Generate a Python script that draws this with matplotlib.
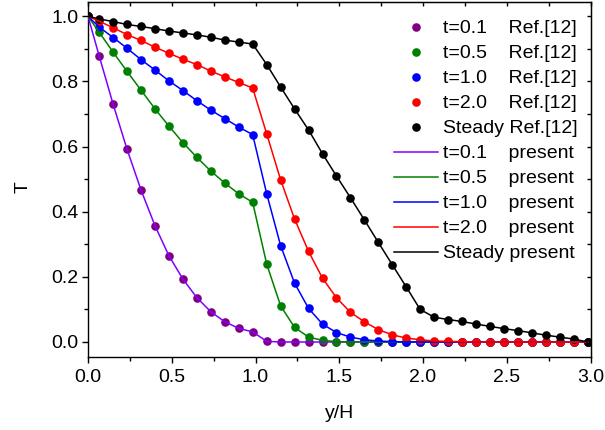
import matplotlib
matplotlib.use("Agg")
import matplotlib.pyplot as plt
from matplotlib.ticker import MultipleLocator, FormatStrFormatter
from matplotlib.lines import Line2D

plt.rcParams['font.family'] = ['Liberation Sans', 'DejaVu Sans']

# y/H positions of the sampled points
y_h = [0.0, 0.067, 0.15, 0.233, 0.317, 0.4, 0.483, 0.567, 0.65, 0.733, 0.817,
       0.9, 0.983, 1.067, 1.15, 1.233, 1.317, 1.4, 1.483, 1.567, 1.65, 1.733,
       1.817, 1.9, 1.983, 2.067, 2.15, 2.233, 2.317, 2.4, 2.483, 2.567, 2.65,
       2.733, 2.817, 2.9, 2.983]

T_01 = [1.0, 0.878, 0.730, 0.592, 0.466, 0.357, 0.265, 0.193, 0.136, 0.093,
        0.062, 0.042, 0.031, 0.002] + [0.0] * 23
T_05 = [1.0, 0.951, 0.890, 0.831, 0.773, 0.716, 0.663, 0.612, 0.567, 0.525,
        0.488, 0.455, 0.429, 0.239, 0.111, 0.045, 0.015, 0.005, 0.001] + [0.0] * 18
T_10 = [1.0, 0.967, 0.935, 0.902, 0.867, 0.835, 0.802, 0.772, 0.741, 0.712,
        0.686, 0.660, 0.637, 0.455, 0.296, 0.181, 0.103, 0.055, 0.029, 0.015,
        0.007, 0.003, 0.001] + [0.0] * 14
T_20 = [1.0, 0.985, 0.965, 0.944, 0.926, 0.905, 0.887, 0.868, 0.852, 0.832,
        0.814, 0.797, 0.780, 0.639, 0.498, 0.378, 0.278, 0.196, 0.136, 0.091,
        0.062, 0.038, 0.022, 0.012, 0.007, 0.003, 0.002, 0.001] + [0.0] * 9
T_steady = [1.0, 0.992, 0.984, 0.975, 0.969, 0.962, 0.955, 0.949, 0.943, 0.936,
            0.927, 0.921, 0.915, 0.852, 0.783, 0.716, 0.651, 0.578, 0.510, 0.443,
            0.375, 0.306, 0.237, 0.169, 0.100, 0.076, 0.069, 0.063, 0.055, 0.048,
            0.041, 0.035, 0.028, 0.021, 0.015, 0.009, 0.0]

series = [T_01, T_05, T_10, T_20, T_steady]
names = ["t=0.1", "t=0.5", "t=1.0", "t=2.0", "Steady"]
marker_colors = ["#800080", "#008000", "#0000FF", "#FF0000", "#000000"]
line_colors = ["#8000FF", "#008000", "#0000FF", "#FF0000", "#000000"]

MS = 6.2
LW = 1.1

fig = plt.figure(figsize=(6.05, 4.30), dpi=100)
ax = fig.add_axes([88 / 605, 1 - 357.3 / 430, 502.5 / 605, 355.6 / 430])

for vals, mc in zip(series, marker_colors):
    ax.plot(y_h, vals, linestyle="none", marker="o", markersize=MS,
            color=mc, markeredgewidth=0, zorder=2)
for vals, lc in zip(series, line_colors):
    ax.plot(y_h, vals, color=lc, linewidth=LW, zorder=3)

ax.set_xlim(0, 3.0)
ax.set_ylim(-0.047, 1.045)
ax.xaxis.set_major_locator(MultipleLocator(0.5))
ax.xaxis.set_minor_locator(MultipleLocator(0.25))
ax.yaxis.set_major_locator(MultipleLocator(0.2))
ax.yaxis.set_minor_locator(MultipleLocator(0.1))
ax.xaxis.set_major_formatter(FormatStrFormatter("%.1f"))
ax.yaxis.set_major_formatter(FormatStrFormatter("%.1f"))

ax.tick_params(axis="both", which="both", direction="out", labelsize=14,
               width=1.0, top=False, right=False)
ax.tick_params(axis="both", which="major", length=4.6, pad=2.5)
ax.tick_params(axis="x", which="major", pad=4)
ax.tick_params(axis="both", which="minor", length=2.6)
for sp in ax.spines.values():
    sp.set_linewidth(1.0)

# inward ticks on the top and right edges
sec_x = ax.secondary_xaxis("top")
sec_x.xaxis.set_major_locator(MultipleLocator(0.25))
sec_x.tick_params(direction="in", length=3, width=1.0, labeltop=False)
sec_y = ax.secondary_yaxis("right")
sec_y.yaxis.set_major_locator(MultipleLocator(0.1))
sec_y.tick_params(direction="in", length=3, width=1.0, labelright=False)

ax.set_xlabel("y/H", fontsize=14)
ax.set_ylabel("T", fontsize=14)
ax.xaxis.set_label_coords(0.5, -0.133)
ax.yaxis.set_label_coords(-0.113, 0.479)

handles = []
labels = []
for n, mc in zip(names, marker_colors):
    handles.append(Line2D([], [], linestyle="none", marker="o", markersize=MS,
                          color=mc, markeredgewidth=0))
    labels.append(n + ("    " if n != "Steady" else " ") + "Ref.[12]")
for n, lc in zip(names, line_colors):
    handles.append(Line2D([], [], color=lc, linewidth=LW))
    labels.append(n + ("    " if n != "Steady" else " ") + "present")

ax.legend(handles, labels, loc="upper right", bbox_to_anchor=(0.983, 0.96),
          frameon=False, fontsize=14, handlelength=2.25, handletextpad=0.3,
          labelspacing=0.38, borderaxespad=0, borderpad=0.2)

fig.savefig("out.png", dpi=100)
